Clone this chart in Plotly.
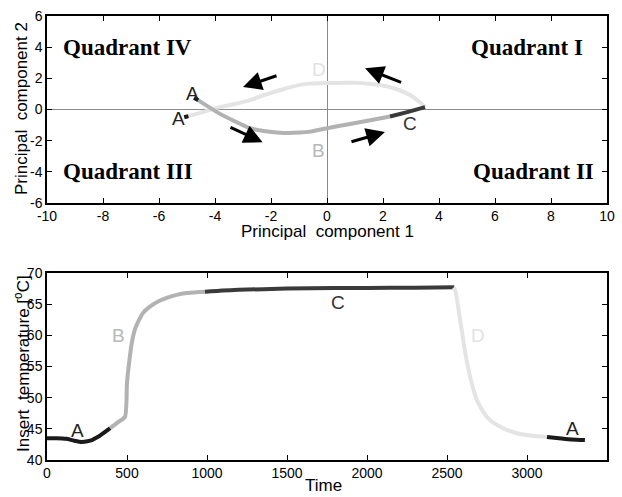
import plotly.graph_objects as go

# ---------------- Top panel: principal component trajectory ----------------
pc_a1_x = [-4.75, -4.6]
pc_a1_y = [0.75, 0.6]
pc_b_x = [-4.6, -4.3, -3.9, -3.3, -2.75, -2.2, -1.57, -0.96, -0.6, 0.0, 0.82, 1.5, 2.25]
pc_b_y = [0.6, 0.25, -0.2, -0.75, -1.2, -1.4, -1.5, -1.48, -1.42, -1.2, -0.93, -0.7, -0.45]
pc_c_x = [2.25, 2.9, 3.5]
pc_c_y = [-0.45, -0.15, 0.15]
pc_d_x = [3.5, 3.3, 2.96, 2.5, 1.9, 1.0, 0.0, -0.6, -0.96, -1.57, -2.2, -2.75, -3.3, -3.9, -4.5, -4.95]
pc_d_y = [0.15, 0.5, 0.93, 1.3, 1.57, 1.72, 1.7, 1.66, 1.58, 1.3, 0.95, 0.6, 0.35, 0.12, -0.2, -0.42]
pc_a2_x = [-4.95, -5.1]
pc_a2_y = [-0.42, -0.5]

# ---------------- Bottom panel: insert temperature ----------------
t_a1 = [0, 60, 120, 170, 218, 270, 330, 395]
temp_a1 = [43.5, 43.5, 43.4, 43.1, 42.9, 43.1, 43.9, 45.1]
t_b = [395, 440, 487, 500, 515, 530, 550, 570, 600, 643, 700, 748, 810, 873, 930, 987]
temp_b = [45.1, 46.0, 46.9, 52.4, 56.0, 58.8, 61.0, 62.2, 63.6, 64.6, 65.5, 66.0, 66.5, 66.8, 66.9, 67.0]
t_c = [987, 1200, 1500, 1800, 2000, 2300, 2545]
temp_c = [67.0, 67.3, 67.5, 67.6, 67.6, 67.65, 67.7]
t_d = [2545, 2555, 2570, 2590, 2610, 2631, 2660, 2687, 2730, 2768, 2850, 2937, 3030, 3125]
temp_d = [67.7, 66.8, 64.5, 61.2, 57.8, 54.9, 51.8, 49.6, 47.6, 46.4, 45.1, 44.3, 43.9, 43.7]
t_a2 = [3125, 3200, 3280, 3362]
temp_a2 = [43.7, 43.5, 43.3, 43.2]

# Tick values / labels (hyphen minus as in the original)
pc1_ticks = [-10, -8, -6, -4, -2, 0, 2, 4, 6, 8, 10]
pc2_ticks = [-6, -4, -2, 0, 2, 4, 6]

# Phase labels
top_labels = ["A", "A", "B", "C", "D"]
top_label_x = [-4.8, -5.3, -0.3, 2.96, -0.3]
top_label_y = [1.05, -0.55, -2.6, -0.9, 2.55]
bot_labels = ["A", "B", "C", "D", "A"]
bot_label_t = [193, 444, 1820, 2695, 3287]
bot_label_temp = [44.8, 60.0, 65.2, 60.0, 45.0]

# Direction arrows (tail x, tail y, head x, head y)
arrow_tail_x = [-1.75, -3.5, 2.7, 0.82]
arrow_tail_y = [2.2, -1.1, 1.7, -2.1]
arrow_head_x = [-3.0, -2.3, 1.36, 2.07]
arrow_head_y = [1.44, -2.1, 2.65, -1.45]

quad_text = ["Quadrant IV", "Quadrant I", "Quadrant III", "Quadrant II"]

COL_A = "#1a1a1a"
COL_B = "#b2b2b2"
COL_C = "#3a3a3a"
COL_D = "#e4e4e4"
LBL_COL = {"A": "#222222", "B": "#b8b8b8", "C": "#333333", "D": "#e2e2e2"}

FONT = "Liberation Sans, Arial, sans-serif"
LW = 4

fig = go.Figure()

def add_line(x, y, color, xa, ya):
    fig.add_trace(go.Scatter(x=x, y=y, mode="lines", line=dict(color=color, width=LW, shape="spline", smoothing=0.6),
                             xaxis=xa, yaxis=ya, showlegend=False, hoverinfo="skip"))

add_line(pc_d_x, pc_d_y, COL_D, "x", "y")
add_line(pc_b_x, pc_b_y, COL_B, "x", "y")
add_line(pc_c_x, pc_c_y, COL_C, "x", "y")
add_line(pc_a1_x, pc_a1_y, COL_A, "x", "y")
add_line(pc_a2_x, pc_a2_y, COL_A, "x", "y")

add_line(t_a1, temp_a1, COL_A, "x2", "y2")
add_line(t_b, temp_b, COL_B, "x2", "y2")
add_line(t_c, temp_c, COL_C, "x2", "y2")
add_line(t_d, temp_d, COL_D, "x2", "y2")
add_line(t_a2, temp_a2, COL_A, "x2", "y2")

annotations = []
for s, x, y in zip(top_labels, top_label_x, top_label_y):
    annotations.append(dict(x=x, y=y, xref="x", yref="y", text=s, showarrow=False,
                            font=dict(family=FONT, size=19, color=LBL_COL[s])))
for s, x, y in zip(bot_labels, bot_label_t, bot_label_temp):
    annotations.append(dict(x=x, y=y, xref="x2", yref="y2", text=s, showarrow=False,
                            font=dict(family=FONT, size=19, color=LBL_COL[s])))
for tx, ty, hx, hy in zip(arrow_tail_x, arrow_tail_y, arrow_head_x, arrow_head_y):
    annotations.append(dict(x=hx, y=hy, ax=tx, ay=ty, xref="x", yref="y", axref="x", ayref="y",
                            text="", showarrow=True, arrowhead=2, arrowsize=1.25, arrowwidth=3,
                            arrowcolor="black"))

quad_pos = [(-9.5, 4.0, "left"), (9.2, 4.0, "right"), (-9.5, -4.0, "left"), (9.6, -4.0, "right")]
for s, (x, y, al) in zip(quad_text, quad_pos):
    annotations.append(dict(x=x, y=y, xref="x", yref="y", text="<b>" + s + "</b>", showarrow=False,
                            xanchor=al, font=dict(family="Liberation Serif, Times New Roman, serif",
                                                  size=23, color="black")))

# axis titles (paper coordinates == figure since margins are zero)
def title(text, px, py, angle=0):
    return dict(x=px / 622, y=1 - py / 497, xref="paper", yref="paper", text=text, textangle=angle,
                xanchor="center", yanchor="middle", showarrow=False,
                font=dict(family=FONT, size=17, color="black"))

annotations += [
    title("Principal  component 1", 327, 231),
    title("Principal  component 2", 21, 109, -90),
    title("Time", 323, 485),
    title("Insert  temperature [<sup>o</sup>C]", 22, 364, -90),
]

axis_common = dict(showline=True, linecolor="black", linewidth=1.5, mirror="allticks", ticks="inside",
                   ticklen=5, tickwidth=1.2, tickcolor="black", showgrid=False, automargin=False,
                   tickfont=dict(family=FONT, size=14, color="black"))

xd = [47 / 622, 607 / 622]
fig.update_layout(
    width=622, height=497, margin=dict(l=0, r=0, t=0, b=0, autoexpand=False),
    paper_bgcolor="white", plot_bgcolor="white",
    xaxis=dict(domain=xd, range=[-10, 10], tickmode="array", tickvals=pc1_ticks,
               ticktext=[str(v) for v in pc1_ticks], ticklabelstandoff=-1, anchor="y", zeroline=True,
               zerolinecolor="#8a8a8a", zerolinewidth=1.2, **axis_common),
    yaxis=dict(domain=[1 - 203 / 497, 1 - 16 / 497], range=[-6, 6], tickmode="array", tickvals=pc2_ticks,
               ticktext=[str(v) for v in pc2_ticks], anchor="x", zeroline=True,
               zerolinecolor="#8a8a8a", zerolinewidth=1.2, **axis_common),
    xaxis2=dict(domain=xd, range=[0, 3500], dtick=500, anchor="y2", zeroline=False, ticklabelstandoff=-1,
                **axis_common),
    yaxis2=dict(domain=[1 - 460 / 497, 1 - 273 / 497], range=[40, 70], dtick=5, anchor="x2", zeroline=False,
                **axis_common),
    annotations=annotations,
)

fig.write_html("out.html")
